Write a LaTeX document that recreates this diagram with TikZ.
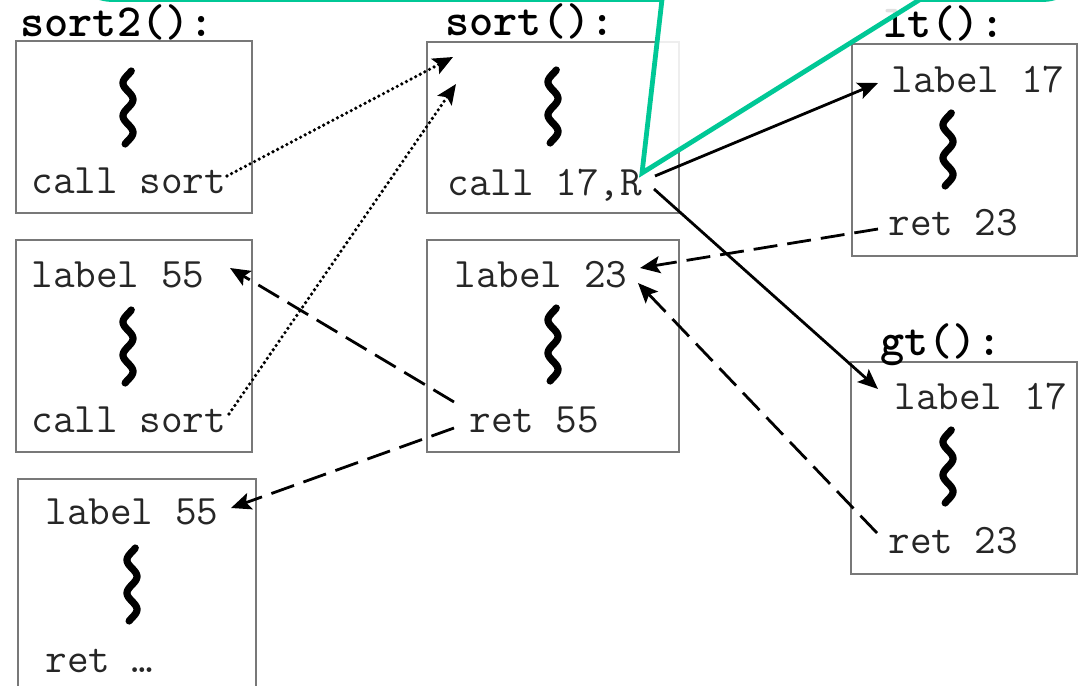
\documentclass[tikz,border=0pt]{standalone}
\usepackage{fontspec}
\usetikzlibrary{arrows.meta}
\definecolor{callout}{RGB}{0,200,150}
\definecolor{boxgray}{RGB}{120,120,120}
\begin{document}
\begin{tikzpicture}[x=0.5pt,y=-0.5pt,
  box/.style={draw=boxgray, line width=1pt},
  txt/.style={font=\ttfamily\fontsize{21}{23}\selectfont, text=black!85, anchor=base west, inner sep=0pt},
  ttl/.style={font=\ttfamily\bfseries\fontsize{23}{25}\selectfont, text=black, anchor=base west, inner sep=0pt},
  arr/.style={-{Stealth[length=10pt,width=8.5pt,inset=2pt]}, line width=1.4pt},
  dsh/.style={arr, dash pattern=on 12pt off 5pt},
  dotl/.style={arr, line width=1.8pt, dash pattern=on 0pt off 2.6pt, line cap=round},
  squig/.pic={\draw[line width=3.6pt, line cap=round] plot[domain=3:76, samples=60, smooth] ({-5*cos((\x-15)*10.909)}, \x);}
]
\useasboundingbox (0,0) rectangle (1080,685);
\clip (0,0) rectangle (1080,685);

% boxes
\draw[box] (15.7,41) rectangle (251.7,213);
\draw[box] (15.7,240) rectangle (251.7,451.7);
\draw[box] (18.3,479) rectangle (255.7,720);
\draw[box] (426.7,41.7) rectangle (679.3,213.3);
\draw[box] (427.3,240) rectangle (679.3,451.7);
\draw[box] (851.7,44.3) rectangle (1077.3,256);
\draw[box] (851,361.7) rectangle (1076.7,574);

% titles
\node[ttl] (tsort2) at (20,36) {sort2():};
\node[ttl] (tsort) at (445,35) {sort():};
\node[ttl] (tlt) at (883,37) {lt():};
\node[ttl] (tgt) at (880,355) {gt():};

% texts
\node[txt] (a1call) at (31,193) {call sort};
\node[txt] (a2label) at (31,287) {label 55};
\node[txt] (a2call) at (31,432) {call sort};
\node[txt] (a3label) at (45,524) {label 55};
\node[txt] (a3ret) at (45,672) {ret …};
\node[txt] (s1call) at (447,195) {call 17,R};
\node[txt] (s2label) at (454,287) {label 23};
\node[txt] (s2ret) at (469,432) {ret 55};
\node[txt] (ltlabel) at (891,92) {label 17};
\node[txt] (ltret) at (888,235) {ret 23};
\node[txt] (gtlabel) at (894,409) {label 17};
\node[txt] (gtret) at (888,553) {ret 23};

% squiggles
\pic at (128,68) {squig};
\pic at (128,307) {squig};
\pic at (132,545) {squig};
\pic at (553,67) {squig};
\pic at (553,305) {squig};
\pic at (948,110) {squig};
\pic at (948,427) {squig};

% connector end points
\coordinate (d1s) at (227,176); \coordinate (d1e) at (453,57);
\coordinate (d2s) at (229,414); \coordinate (d2e) at (456,84);
\coordinate (c1s) at (655,176); \coordinate (c1e) at (878,83);
\coordinate (c2s) at (654,189); \coordinate (c2e) at (878,389);
\coordinate (r1s) at (878,229); \coordinate (r1e) at (640,268);
\coordinate (r2s) at (877,533); \coordinate (r2e) at (638,283);
\coordinate (r3s) at (454,402); \coordinate (r3e) at (230,268);
\coordinate (r4s) at (454,428); \coordinate (r4e) at (231,508);

% connectors
\draw[dotl] (d1s) -- (d1e);
\draw[dotl] (d2s) -- (d2e);
\draw[arr] (c1s) -- (c1e);
\draw[arr] (c2s) -- (c2e);
\draw[dsh] (r1s) -- (r1e);
\draw[dsh] (r2s) -- (r2e);
\draw[dsh] (r3s) -- (r3e);
\draw[dsh] (r4s) -- (r4e);

% callout
\coordinate (tip) at (642,173);
\fill[white, fill opacity=0.88] (662,-0.5) -- (tip) -- (920,-0.5) -- cycle;
\draw[callout, line width=2.4pt, rounded corners=20] (72,-40) -- (72,-0.5) -- (662,-0.5);
\draw[callout, line width=2.4pt, line join=miter] (662,-0.5) -- (tip) -- (920,-0.5);
\draw[callout, line width=2.4pt, rounded corners=20] (920,-0.5) -- (1083,-0.5) -- (1083,-40);
\end{tikzpicture}
\end{document}
